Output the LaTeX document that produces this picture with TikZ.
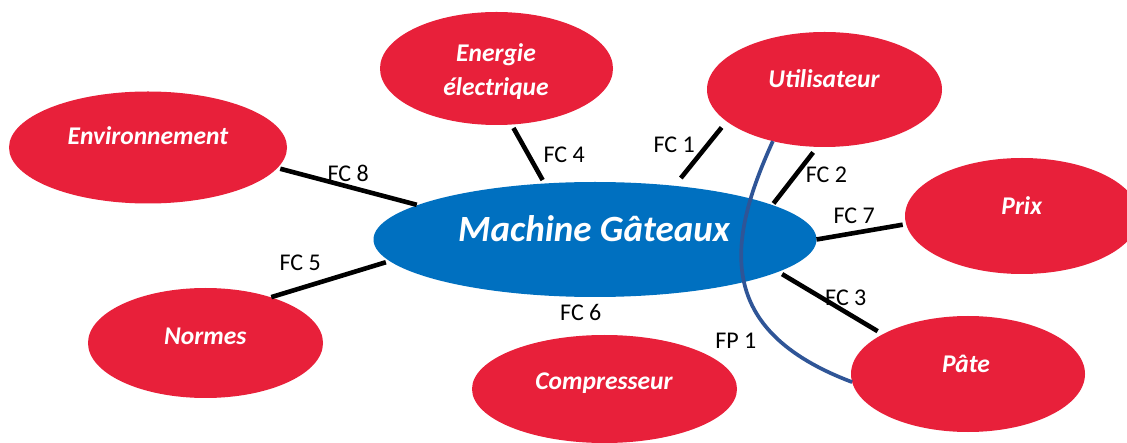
\documentclass[tikz,border=0pt]{standalone}
\usepackage{fontspec}
\setmainfont{Carlito}
\usetikzlibrary{shapes.geometric}
\definecolor{bubred}{RGB}{232,32,58}
\definecolor{mainblue}{RGB}{0,112,192}
\definecolor{fpblue}{RGB}{47,85,151}
\begin{document}
\begin{tikzpicture}[x=1pt,y=-1pt,
  bubble/.style={ellipse, fill=bubred, draw=none, inner sep=0pt, outer sep=0pt},
  centre/.style={ellipse, fill=mainblue, draw=none, inner sep=0pt, outer sep=0pt},
  bubtext/.style={anchor=base, text=white, font=\fontsize{25.5}{30}\selectfont\bfseries\itshape, inner sep=0pt},
  maintext/.style={anchor=base, text=white, font=\fontsize{37}{44}\selectfont\bfseries\itshape, inner sep=0pt},
  fclabel/.style={anchor=base, text=black, font=\fontsize{24}{29}\selectfont, inner sep=0pt},
  fcline/.style={line width=4.6pt, draw=black},
  fpline/.style={line width=3.7pt, draw=fpblue}]
\useasboundingbox (0,0) rectangle (1127,443);
\clip (0,0) rectangle (1127,443);
\fill[white] (0,0) rectangle (1127,443);

% ellipses
\node[centre, minimum width=443pt, minimum height=115pt] (main) at (595,239.5) {};
\node[bubble, minimum width=278pt, minimum height=112pt] (env)  at (148,147.5) {};
\node[bubble, minimum width=233pt, minimum height=113pt] (nrg)  at (496.5,68.5) {};
\node[bubble, minimum width=235pt, minimum height=115pt] (utl)  at (824.5,89.5) {};
\node[bubble, minimum width=234pt, minimum height=116pt] (prix) at (1022,216) {};
\node[bubble, minimum width=235pt, minimum height=110pt] (nrm)  at (205.5,343) {};
\node[bubble, minimum width=265pt, minimum height=108pt] (cmp)  at (604.5,389) {};
\node[bubble, minimum width=234pt, minimum height=116pt] (pate) at (968,374) {};

% connectors
\draw[fcline, shorten <=8pt, shorten >=10pt] (utl.198.7) -- (main.34.5);
\draw[fcline, shorten <=7pt, shorten >=2pt] (utl.263) -- (main.11.8);
\draw[fcline, shorten >=3.5pt] (main.0.9) -- (prix.184.3);
\draw[fcline, shorten <=4.5pt, shorten >=6pt] (main.-10.9) -- (pate.155.8);
\draw[fcline, shorten <=3pt, shorten >=1pt] (env.-9.6) -- (main.169.6);
\draw[fcline, shorten <=4pt, shorten >=4pt] (nrg.-75.4) -- (main.132.4);
\draw[fcline, shorten <=4pt, shorten >=0.5pt] (main.186.3) -- (nrm.35.2);
\draw[fpline] (utl.-135) .. controls (727,242) and (714,330) .. (pate.184);

% texts
\node[maintext] (mainT) at (594,241.6) {Machine Gâteaux};
\node[bubtext] (envT)  at (148,144.2) {Environnement};
\node[bubtext] (nrgT1) at (496,62) {Energie};
\node[bubtext] (nrgT2) at (496,95.3) {électrique};
\node[bubtext] (utlT)  at (824,87.5) {Utilisateur};
\node[bubtext] (prixT) at (1021.7,215) {Prix};
\node[bubtext] (nrmT)  at (205.3,344.7) {Normes};
\node[bubtext] (cmpT)  at (604,389.7) {Compresseur};
\node[bubtext] (pateT) at (966,372.7) {Pâte};

% labels
\node[fclabel] (l1) at (674.2,152.5) {FC 1};
\node[fclabel] (l2) at (826.5,182.4) {FC 2};
\node[fclabel] (l7) at (854.2,223.9) {FC 7};
\node[fclabel] (l3) at (845.8,305.2) {FC 3};
\node[fclabel] (lp) at (735.8,348.5) {FP 1};
\node[fclabel] (l8) at (348.2,181.5) {FC 8};
\node[fclabel] (l4) at (564.2,162.4) {FC 4};
\node[fclabel] (l5) at (300.2,270.2) {FC 5};
\node[fclabel] (l6) at (580.8,320.5) {FC 6};
\end{tikzpicture}
\end{document}
